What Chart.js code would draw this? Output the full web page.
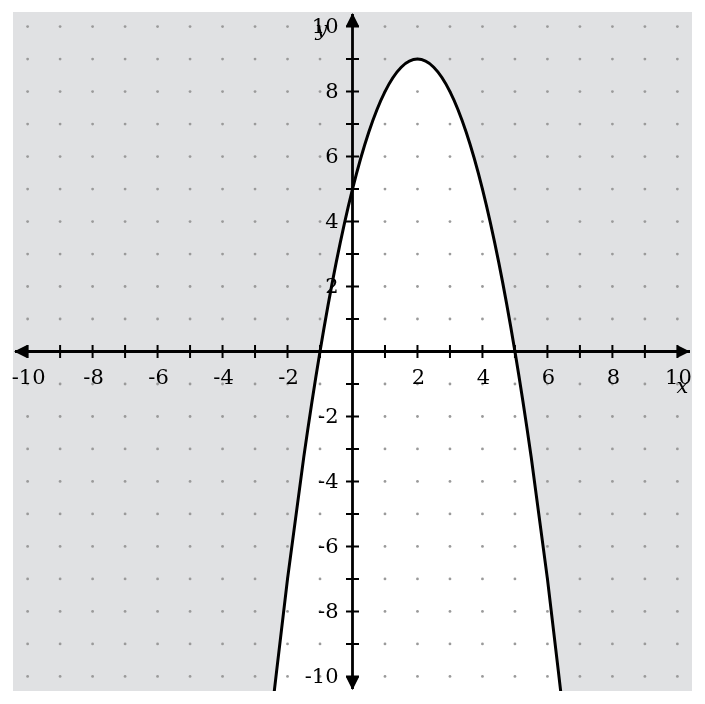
<!DOCTYPE html>
<html>
<head>
<meta charset="utf-8">
<script src="https://cdn.jsdelivr.net/npm/chart.js@4"></script>
<style>
  html, body { margin: 0; padding: 0; background: #fff; }
</style>
</head>
<body>
<canvas id="graph" width="705" height="704"></canvas>
<script>
// points
const xValues = [-2.5, -2, -1.5, -1, -0.5, 0, 0.5, 1, 1.5, 2, 2.5, 3, 3.5, 4, 4.5, 5, 5.5, 6, 6.5];
const yValues = [-11.25, -7, -3.25, 0, 2.75, 5, 6.75, 8, 8.75, 9, 8.75, 8, 6.75, 5, 2.75, 0, -3.25, -7, -11.25];

// integer steps for ticks and dot grid
const gridSteps = [-10, -9, -8, -7, -6, -5, -4, -3, -2, -1, 0, 1, 2, 3, 4, 5, 6, 7, 8, 9, 10];
const xTickLabels = [-10, -8, -6, -4, -2, 2, 4, 6, 8, 10];
const yTickLabels = [-10, -8, -6, -4, -2, 2, 4, 6, 8, 10];

const LIMIT = 10.45;
const FONT = '21px "DejaVu Serif"';
const TITLE_FONT = 'italic 21px "DejaVu Serif"';

const curve = xValues.map((x, i) => ({ x: x, y: yValues[i] }));

const axesPlugin = {
  id: 'axesPlugin',
  beforeDraw(chart) {
    const { ctx, chartArea: a } = chart;
    ctx.save();
    ctx.fillStyle = '#e0e1e3';
    ctx.fillRect(a.left, a.top, a.right - a.left, a.bottom - a.top);
    ctx.restore();
  },
  beforeDatasetsDraw(chart) {
    // dot grid, drawn over the white fill
    const { ctx, scales } = chart;
    ctx.save();
    ctx.fillStyle = '#9a9a9a';
    gridSteps.forEach(gx => {
      gridSteps.forEach(gy => {
        ctx.beginPath();
        ctx.arc(scales.x.getPixelForValue(gx), scales.y.getPixelForValue(gy), 1.4, 0, Math.PI * 2);
        ctx.fill();
      });
    });
    ctx.restore();
  },
  afterDatasetsDraw(chart) {
    const { ctx, chartArea: a, scales } = chart;
    const x0 = scales.x.getPixelForValue(0);
    const y0 = scales.y.getPixelForValue(0);
    ctx.save();
    ctx.strokeStyle = '#000';
    ctx.fillStyle = '#000';

    // axis lines
    ctx.lineWidth = 2.8;
    ctx.beginPath();
    ctx.moveTo(a.left + 2, y0); ctx.lineTo(a.right - 2, y0);
    ctx.moveTo(x0, a.top + 2); ctx.lineTo(x0, a.bottom - 2);
    ctx.stroke();

    // arrow heads
    const L = 13, W = 6.5;
    ctx.beginPath();
    ctx.moveTo(a.left + 1, y0); ctx.lineTo(a.left + 1 + L, y0 - W); ctx.lineTo(a.left + 1 + L, y0 + W); ctx.closePath();
    ctx.moveTo(a.right - 2, y0); ctx.lineTo(a.right - 2 - L, y0 - W); ctx.lineTo(a.right - 2 - L, y0 + W); ctx.closePath();
    ctx.moveTo(x0, a.top + 1); ctx.lineTo(x0 - W, a.top + 1 + L); ctx.lineTo(x0 + W, a.top + 1 + L); ctx.closePath();
    ctx.moveTo(x0, a.bottom - 1); ctx.lineTo(x0 - W, a.bottom - 1 - L); ctx.lineTo(x0 + W, a.bottom - 1 - L); ctx.closePath();
    ctx.fill();

    // tick marks
    ctx.lineWidth = 2;
    ctx.beginPath();
    gridSteps.forEach(v => {
      if (v === 0) return;
      const px = scales.x.getPixelForValue(v);
      const py = scales.y.getPixelForValue(v);
      ctx.moveTo(px, y0 - 6.5); ctx.lineTo(px, y0 + 6.5);
      ctx.moveTo(x0 - 6.5, py); ctx.lineTo(x0 + 6.5, py);
    });
    ctx.stroke();

    // tick labels
    ctx.font = FONT;
    ctx.textAlign = 'center';
    ctx.textBaseline = 'middle';
    xTickLabels.forEach(v => {
      ctx.fillText(String(v), scales.x.getPixelForValue(v) + 1, y0 + 27);
    });
    ctx.textAlign = 'right';
    yTickLabels.forEach(v => {
      ctx.fillText(String(v), x0 - 14, scales.y.getPixelForValue(v) + 1);
    });

    // axis titles
    ctx.font = TITLE_FONT;
    ctx.textAlign = 'center';
    ctx.fillText('y', x0 - 31, scales.y.getPixelForValue(10) + 4);
    ctx.fillText('x', scales.x.getPixelForValue(10) + 5, y0 + 36);
    ctx.restore();
  }
};

new Chart(document.getElementById('graph'), {
  type: 'scatter',
  data: {
    datasets: [{
      data: curve,
      showLine: true,
      borderColor: '#000',
      borderWidth: 3,
      backgroundColor: '#ffffff',
      fill: 'start',
      pointRadius: 0,
      cubicInterpolationMode: 'monotone'
    }]
  },
  options: {
    responsive: false,
    animation: false,
    devicePixelRatio: 1,
    layout: { padding: { left: 13, right: 13, top: 12, bottom: 13 } },
    scales: {
      x: { type: 'linear', min: -LIMIT, max: LIMIT, display: false },
      y: { type: 'linear', min: -LIMIT, max: LIMIT, display: false }
    },
    plugins: {
      legend: { display: false },
      tooltip: { enabled: false },
      filler: { drawTime: 'beforeDatasetsDraw' }
    }
  },
  plugins: [axesPlugin]
});
</script>
</body>
</html>
